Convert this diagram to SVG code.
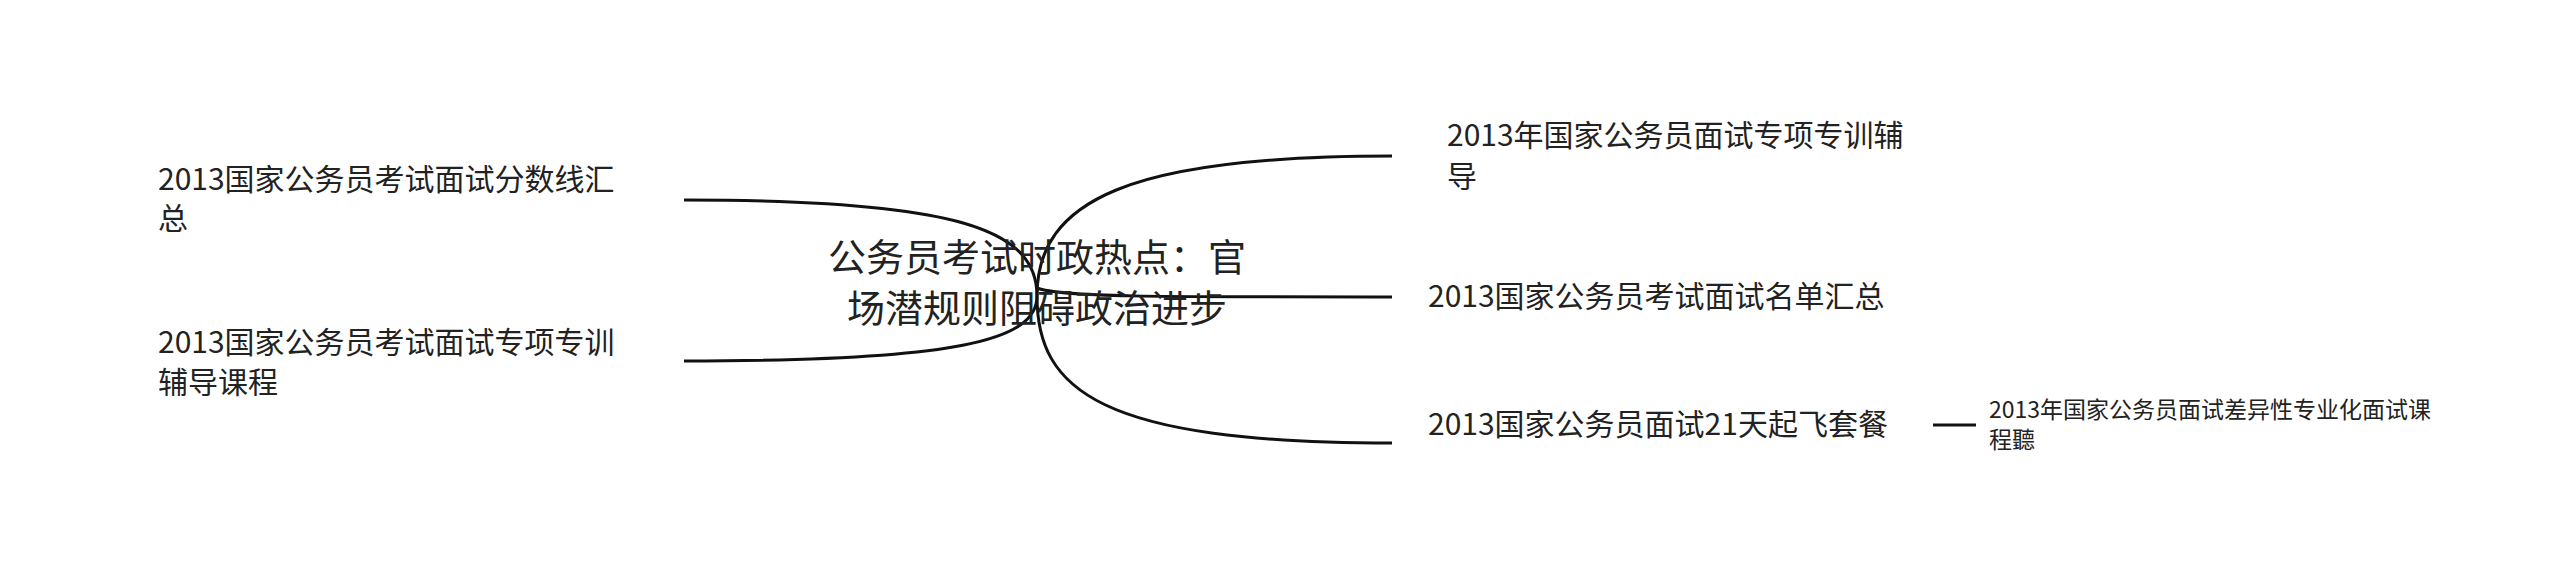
<svg xmlns="http://www.w3.org/2000/svg" width="2560" height="567" viewBox="0 0 2560 567">
<style>
text{font-family:"Noto Sans CJK SC","Noto Sans",sans-serif;fill:#222}
.c{font-size:38px;text-anchor:middle}
.n{font-size:30px}
.s{font-size:23px}
.l{fill:none;stroke:#111;stroke-width:3}
</style>
<rect width="2560" height="567" fill="#fff"/>
<g id="connectors">
<path class="l" d="M1037,296 C1037,230 960,200 684,200"/>
<path class="l" d="M1037,296 C1037,340 960,361 684,361"/>
<path class="l" d="M1037,296 C1037,200 1130,156 1392,156"/>
<path class="l" d="M1037,288 C1060,297 1150,297 1392,297"/>
<path class="l" d="M1037,296 C1037,390 1100,443 1392,443"/>
<path class="l" d="M1933,425 L1976,425"/>
</g>
<g id="center"><text class="c" x="1037" y="271">公务员考试时政热点：官</text><text class="c" x="1037" y="322">场潜规则阻碍政治进步</text></g>
<g id="n1"><text class="n" x="158" y="190">2013国家公务员考试面试分数线汇</text><text class="n" x="158" y="229">总</text></g>
<g id="n2"><text class="n" x="158" y="353">2013国家公务员考试面试专项专训</text><text class="n" x="158" y="393">辅导课程</text></g>
<g id="n3"><text class="n" x="1447" y="146">2013年国家公务员面试专项专训辅</text><text class="n" x="1447" y="187">导</text></g>
<g id="n4"><text class="n" x="1428" y="307">2013国家公务员考试面试名单汇总</text></g>
<g id="n5"><text class="n" x="1428" y="435">2013国家公务员面试21天起飞套餐</text></g>
<g id="n6"><text class="s" x="1989" y="418">2013年国家公务员面试差异性专业化面试课</text><text class="s" x="1989" y="448">程聽</text></g>
</svg>
